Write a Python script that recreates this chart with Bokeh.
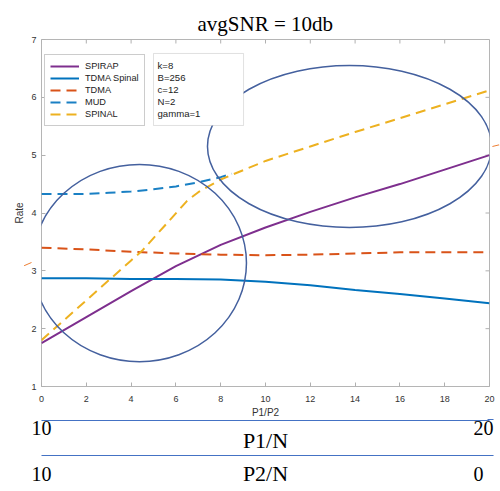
from bokeh.plotting import figure
from bokeh.models import (Range1d, FixedTicker, LinearAxis, Label, Arrow, NormalHead,
                          BoxAnnotation, Legend, LegendItem, Title)
from bokeh.embed import file_html
from bokeh.resources import INLINE

# ---------------- data ----------------
x_vals = [0, 2, 4, 6, 8, 10, 12, 14, 16, 18, 20]
spirap = [1.75, 2.2, 2.65, 3.08, 3.45, 3.75, 4.02, 4.27, 4.5, 4.75, 5.0]
tdma_spinal = [2.87, 2.87, 2.86, 2.86, 2.85, 2.81, 2.75, 2.67, 2.6, 2.52, 2.44]
tdma = [3.4, 3.37, 3.33, 3.3, 3.28, 3.27, 3.28, 3.3, 3.32, 3.32, 3.32]
mud_x = [0, 1, 2, 3, 4, 5, 6, 7, 8, 8.5]
mud = [4.33, 4.33, 4.33, 4.35, 4.37, 4.41, 4.46, 4.53, 4.62, 4.68]
spinal_x = [0, 2, 4, 4.5, 5.5, 6.5, 7, 8, 10, 12, 14, 16, 18, 20]
spinal = [1.8, 2.49, 3.18, 3.35, 3.78, 4.21, 4.36, 4.58, 4.9, 5.15, 5.4, 5.64, 5.88, 6.12]

series_names = ["SPIRAP", "TDMA Spinal", "TDMA", "MUD", "SPINAL"]
params = ["k=8", "B=256", "c=12", "N=2", "gamma=1"]

x_ticks = [0, 2, 4, 6, 8, 10, 12, 14, 16, 18, 20]
y_ticks = [1, 2, 3, 4, 5, 6, 7]

# secondary scales under the chart
p1_ticks = [10, 20]      # P1/N runs 10 -> 20
p2_ticks = [10, 0]       # P2/N runs 10 -> 0

# highlight ellipses (center x, center y, width, height) in data units
ell_cx = [4.375, 13.75]
ell_cy = [3.135, 5.15]
ell_w = [9.55, 12.68]
ell_h = [3.41, 2.80]

title_text = "avgSNR = 10db"

# ---------------- main figure ----------------
W, H = 500, 491
p = figure(width=W, height=H, output_backend="svg", toolbar_location=None,
           x_range=Range1d(0, 20), y_range=Range1d(1, 7),
           min_border_left=41, min_border_right=11, min_border_top=39,
           min_border_bottom=H - 386)
p.background_fill_color = "white"
p.border_fill_color = "white"
p.outline_line_color = "#b5b5b5"
p.outline_line_width = 1
p.xgrid.grid_line_color = None
p.ygrid.grid_line_color = None

p.extra_x_ranges = {"p1": Range1d(10, 20.136), "p2": Range1d(10, -0.252)}

t = Title(text=title_text, text_font="Liberation Serif", text_font_size="21px",
          text_font_style="normal", text_color="black", align="left",
          offset=156, standoff=8)
p.add_layout(t, "above")

tick_col = "#b0b0b0"
lab_col = "#333333"
font = "Liberation Sans"
serif = "Liberation Serif"
blue = "#4472c4"
orange = "#ed7d31"

xa = p.xaxis[0]
xa.ticker = FixedTicker(ticks=x_ticks)
xa.axis_line_color = None
xa.major_tick_in = 4
xa.major_tick_out = 0
xa.major_tick_line_color = tick_col
xa.minor_tick_line_color = None
xa.major_label_text_font = font
xa.major_label_text_font_size = "9px"
xa.major_label_text_color = lab_col
xa.major_label_standoff = 9
xa.axis_label = "P1/P2"
xa.axis_label_text_font = font
xa.axis_label_text_font_size = "10px"
xa.axis_label_text_font_style = "normal"
xa.axis_label_text_color = lab_col
xa.axis_label_standoff = 2

ya = p.yaxis[0]
ya.ticker = FixedTicker(ticks=y_ticks)
ya.axis_line_color = None
ya.major_tick_in = 4
ya.major_tick_out = 0
ya.major_tick_line_color = tick_col
ya.minor_tick_line_color = None
ya.major_label_text_font = font
ya.major_label_text_font_size = "9px"
ya.major_label_text_color = lab_col
ya.major_label_standoff = 5
ya.axis_label = "Rate"
ya.axis_label_text_font = font
ya.axis_label_text_font_size = "10px"
ya.axis_label_text_font_style = "normal"
ya.axis_label_text_color = lab_col
ya.axis_label_standoff = 3


def scale_axis(range_name, ticks, label, tick_standoff, label_standoff):
    ax = LinearAxis(x_range_name=range_name, ticker=FixedTicker(ticks=ticks))
    ax.axis_line_color = blue
    ax.axis_line_width = 1.2
    ax.major_tick_in = 0
    ax.major_tick_out = 0
    ax.major_tick_line_color = None
    ax.minor_tick_line_color = None
    ax.major_label_text_font = serif
    ax.major_label_text_font_size = "20px"
    ax.major_label_text_color = "black"
    ax.major_label_standoff = tick_standoff
    ax.axis_label = label
    ax.axis_label_text_font = serif
    ax.axis_label_text_font_size = "22px"
    ax.axis_label_text_font_style = "normal"
    ax.axis_label_text_color = "black"
    ax.axis_label_standoff = label_standoff
    return ax


p.add_layout(scale_axis("p1", p1_ticks, "P1/N", 0, -10), "below")
p.add_layout(scale_axis("p2", p2_ticks, "P2/N", 11, -23), "below")

# inward ticks on top and right edges (mirroring the tick arrays)
tick_dx = 4 / 22.4
tick_dy = 4 / 57.83
p.segment(x0=x_ticks, y0=[7] * len(x_ticks), x1=x_ticks, y1=[7 - tick_dy] * len(x_ticks),
          line_color=tick_col, line_width=1)
p.segment(x0=[20] * len(y_ticks), y0=y_ticks, x1=[20 - tick_dx] * len(y_ticks), y1=y_ticks,
          line_color=tick_col, line_width=1)

# ---------------- series ----------------
dash = "10 6"
r1 = p.line(x_vals, spirap, line_color="#7E2F8E", line_width=2)
r2 = p.line(x_vals, tdma_spinal, line_color="#0072BD", line_width=2)
r3 = p.line(x_vals, tdma, line_color="#D95319", line_width=2, line_dash=dash)
r4 = p.line(mud_x, mud, line_color="#1a80c4", line_width=2, line_dash=dash)
r5 = p.line(spinal_x, spinal, line_color="#EDB120", line_width=2, line_dash=dash)

p.ellipse(x=ell_cx, y=ell_cy, width=ell_w, height=ell_h, fill_color=None,
          line_color="#44609e", line_width=1.5)

legend = Legend(items=[LegendItem(label=n, renderers=[r]) for n, r in
                       zip(series_names, [r1, r2, r3, r4, r5])],
                location=(3, 260))
legend.margin = 0
legend.padding = 5
legend.spacing = 0
legend.label_height = 12
legend.glyph_height = 12
legend.glyph_width = 29
legend.label_standoff = 6
legend.label_text_font = font
legend.label_text_font_size = "9.2px"
legend.label_text_color = "#222222"
legend.border_line_color = "#9a9a9a"
legend.border_line_width = 1
legend.background_fill_color = "white"
legend.background_fill_alpha = 1
p.add_layout(legend, "center")

# parameter box
p.add_layout(BoxAnnotation(left=5.0, right=9.02, top=6.758, bottom=5.513,
                           fill_color="white", fill_alpha=1,
                           line_color="#9a9a9a", line_width=1))
for i, txt in enumerate(params):
    p.add_layout(Label(x=5.18, y=6.55 - i * 0.208, text=txt, text_font=font,
                       text_font_size="9.6px", text_color="#222222",
                       text_baseline="alphabetic", text_align="left"))

# orange pointers
p.add_layout(Arrow(x_start=-1.473, y_start=2.971, x_end=-0.446, y_end=3.144,
                   line_color=orange, line_width=1,
                   end=NormalHead(size=8, fill_color=orange, line_color=orange)))
p.add_layout(Arrow(x_start=20.5, y_start=5.185, x_end=20.13, y_end=5.15,
                   line_color=orange, line_width=1,
                   end=NormalHead(size=7, fill_color=orange, line_color=orange)))

# arrow heads at the end of the two lower scales
for yy in (1 - (419 - 386) / 57.83, 1 - (455 - 386) / 57.83):
    p.add_layout(Arrow(x_start=19.6, y_start=yy, x_end=20.18, y_end=yy,
                       line_color=blue, line_width=1.2,
                       end=NormalHead(size=6, fill_color=blue, line_color=blue)))

open("out.html", "w").write(file_html(p, INLINE))
